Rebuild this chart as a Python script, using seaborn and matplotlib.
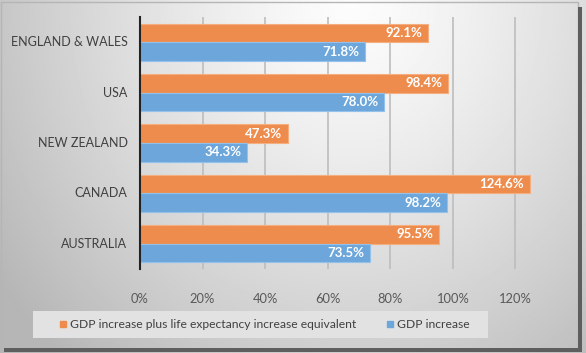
import numpy as np
import pandas as pd
import matplotlib
matplotlib.use("Agg")
import matplotlib.pyplot as plt
import seaborn as sns
from matplotlib.patches import Rectangle
from matplotlib.lines import Line2D

countries = ["ENGLAND & WALES", "USA", "NEW ZEALAND", "CANADA", "AUSTRALIA"]
series_names = ["GDP increase plus life expectancy increase equivalent", "GDP increase"]
gdp_plus_life = [92.1, 98.4, 47.3, 124.6, 95.5]
gdp_only = [71.8, 78.0, 34.3, 98.2, 73.5]
x_ticks = [0, 20, 40, 60, 80, 100, 120]
x_tick_labels = ["0%", "20%", "40%", "60%", "80%", "100%", "120%"]

df = pd.DataFrame({
    "country": countries * 2,
    "series": [series_names[0]] * len(countries) + [series_names[1]] * len(countries),
    "value": gdp_plus_life + gdp_only,
})

sns.set_theme(style="white")
plt.rcParams["font.family"] = ["Lato", "DejaVu Sans"]

fig = plt.figure(figsize=(5.86, 3.53), dpi=100)
W, H = 586, 353

# background gradient (radial, light at upper middle)
bg = fig.add_axes([0, 0, 1, 1], zorder=-10)
xx, yy = np.meshgrid(np.linspace(0, 1, 400), np.linspace(0, 1, 250))  # yy from top
d = np.sqrt(((xx - 0.6) / 0.62) ** 2 + ((yy - 0.0) / 1.15) ** 2)
grad = 0.99 - 0.22 * np.clip(d, 0, 1.2) ** 1.3
bg.imshow(grad, cmap="gray", vmin=0, vmax=1, extent=[0, 1, 0, 1], aspect="auto", origin="upper")
bg.add_patch(Rectangle((1 / W, 4 / H), 577 / W, 347 / H, fill=False, edgecolor="#b5b5b5", lw=1.0))
bg.add_patch(Rectangle((4 / W, 1 / H), 578 / W, 4 / H, facecolor="#5e5e5e", edgecolor="none"))
bg.add_patch(Rectangle((578 / W, 1 / H), 4 / W, 345 / H, facecolor="#5e5e5e", edgecolor="none"))
bg.set_xlim(0, 1); bg.set_ylim(0, 1); bg.axis("off")

ax = fig.add_axes([140 / W, 1 - 269 / H, (517 - 140) / W, (269 - 17) / H])
ax.patch.set_alpha(0)
palette = {series_names[0]: "#EE8C4E", series_names[1]: "#6CA6DB"}
edges = {series_names[0]: "#F5AE80", series_names[1]: "#93C1EA"}
sns.barplot(data=df, y="country", x="value", hue="series", orient="h",
            palette=palette, width=0.74, ax=ax, legend=False,
            linewidth=0.8, saturation=1)

for cont, sname in zip(ax.containers, series_names):
    for p in cont.patches:
        p.set_edgecolor(edges[sname])
        p.set_clip_on(False)
        w = p.get_width()
        ax.annotate(f"{w:.1f}%", (w, p.get_y() + p.get_height() / 2), xytext=(-4, 0),
                    textcoords="offset points", ha="right", va="center",
                    color="white", fontsize=9.5, fontweight="bold", annotation_clip=False)

ax.set_xlim(0, 120.5)
ax.set_xticks(x_ticks)
ax.set_xticklabels(x_tick_labels, color="#595959", fontsize=9.3)
ax.set_yticks(range(len(countries)))
ax.set_yticklabels(countries, va="center")
ax.tick_params(axis="y", labelsize=9, labelcolor="#404040", length=0, pad=9)
for lbl in ax.get_yticklabels():
    lbl.set_y(lbl.get_position()[1])
ax.tick_params(axis="x", length=0, pad=17)
ax.set_xlabel(""); ax.set_ylabel("")
ax.grid(axis="x", color="#BDBDBD", lw=1.2)
ax.set_axisbelow(True)
for s in ["top", "right", "bottom"]:
    ax.spines[s].set_visible(False)
ax.spines["left"].set_color("#222222")
ax.spines["left"].set_linewidth(1.5)

# legend
handles = [Line2D([], [], marker="s", ls="", color=palette[n], markersize=4.5) for n in series_names]
fig.patches.append(Rectangle((33 / W, 1 - 338 / H), (488 - 33) / W, 27 / H, transform=fig.transFigure,
                             facecolor="#E2E2E2", edgecolor="none", zorder=0))
leg = fig.legend(handles, series_names, loc="center", bbox_to_anchor=(264 / W, 1 - 324.5 / H),
                 ncol=2, frameon=False, fontsize=8.7, handletextpad=0.25, columnspacing=2.4,
                 handlelength=0.7, labelcolor="#404040")

fig.savefig("out.png", dpi=100)
